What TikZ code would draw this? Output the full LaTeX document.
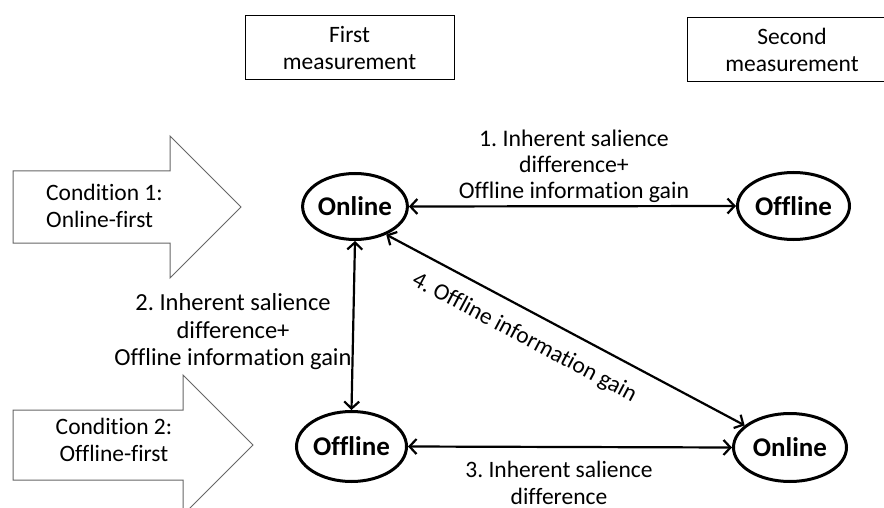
\documentclass[tikz,border=0pt]{standalone}
\usepackage{fontspec}
\setmainfont{Carlito}[Ligatures=NoCommon, RawFeature={-liga;-dlig;-clig}]
\frenchspacing
\usetikzlibrary{shapes.geometric,arrows.meta}
\begin{document}
\begin{tikzpicture}[x=1pt,y=-1pt,
  txt/.style={font=\fontsize{23.5}{27}\selectfont, inner sep=0pt, align=center},
  measbox/.style={txt, draw, line width=1pt},
  state/.style={ellipse, draw, line width=3pt, inner sep=0pt, font=\bfseries\fontsize{27}{30}\selectfont},
  link/.style={line width=2.2pt, {Straight Barb[length=7pt,width=15pt]}-{Straight Barb[length=7pt,width=15pt]}},
  condarrow/.style={draw=black!60, line width=1pt, fill=white}
]
\useasboundingbox (0,0) rectangle (884,508);
\clip (0,0) rectangle (884,508);

% measurement boxes
\node[measbox, minimum width=209pt, minimum height=64pt] (m1) at (349.5,48) {First\\measurement};
\node[measbox, minimum width=210pt, minimum height=64pt] (m2) at (792,49.5) {Second\\measurement};

% condition arrows
\draw[condarrow] (13,171) -- (170,171) -- (170,136) -- (241,207) -- (170,278) -- (170,243) -- (13,243) -- cycle;
\node[txt, align=left, anchor=west] (c1) at (46,206) {Condition 1:\\Online-first};
\draw[condarrow] (13,410) -- (183,410) -- (183,375) -- (253,445) -- (183,515) -- (183,480) -- (13,480) -- cycle;
\node[txt] (c2) at (114,440) {Condition 2:\\Offline-first};

% states
\node[state, minimum width=103pt, minimum height=66pt] (on1) at (355,206.5) {Online};
\node[state, minimum width=112pt, minimum height=67pt] (off1) at (793.5,206) {Offline};
\node[state, minimum width=110pt, minimum height=70pt] (off2) at (351.5,446.5) {Offline};
\node[state, minimum width=113pt, minimum height=68pt] (on2) at (790,447.5) {Online};

% links
\draw[link] (on1.east) -- (off1.west);
\draw[link] (on1.south) -- (off2.north);
\draw[link] (off2.east) -- (on2.west);
\draw[link] (on1.-42) -- node[txt, pos=0.42, sloped, below=15pt] (l4) {4. Offline information gain} (on2.154);

% labels
\node[txt, font=\fontsize{23.8}{26}\selectfont] (l1) at (574,166.5) {1. Inherent salience\\difference+\\Offline information gain};
\node[txt, font=\fontsize{24.5}{27.5}\selectfont] (l2) at (233,332) {2. Inherent salience\\difference+\\Offline information gain};
\node[txt] (l3) at (559,483) {3. Inherent salience\\difference};
\end{tikzpicture}
\end{document}
